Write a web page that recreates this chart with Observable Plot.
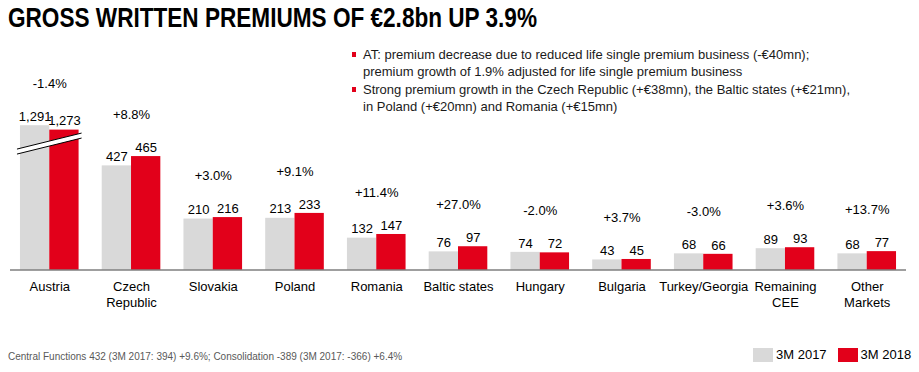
<!DOCTYPE html>
<html>
<head>
<meta charset="utf-8">
<script src="https://cdn.jsdelivr.net/npm/d3@7"></script>
<script src="https://cdn.jsdelivr.net/npm/@observablehq/plot@0.6"></script>
<style>
  html, body { margin: 0; padding: 0; background: #fff; }
  #wrap { position: relative; width: 919px; height: 372px; overflow: hidden; font-family: "Liberation Sans", Arial, sans-serif; }
  #title { position: absolute; left: 8px; top: 2px; font-family: "Liberation Sans", Arial, sans-serif; font-weight: bold; font-size: 28px; color: #000; white-space: nowrap; transform-origin: 0 0; }
  #notes { position: absolute; left: 350px; top: 46px; font-size: 13px; line-height: 17px; color: #1a1a1a; margin: 0; padding: 0; list-style: none; }
  #notes li { position: relative; padding-left: 13px; margin-bottom: 1px; }
  #notes li::before { content: ""; position: absolute; left: 2px; top: 6px; width: 4px; height: 5px; background: #e2001a; }
  #chart { position: absolute; left: 0; top: 0; }
  #foot { position: absolute; left: 8px; top: 351px; font-size: 10px; color: #595959; white-space: nowrap; }
  #legend { position: absolute; left: 753px; top: 347px; font-size: 13px; color: #000; display: flex; align-items: center; white-space: nowrap; }
  #legend span.sw { display: inline-block; width: 20px; height: 14px; margin-right: 3px; }
  #legend span.lb { margin-right: 11px; }
</style>
</head>
<body>
<div id="wrap">
  <div id="chart"></div>
  <div id="title"></div>
  <ul id="notes"></ul>
  <div id="foot"></div>
  <div id="legend"></div>
</div>
<script>
const titleText = "GROSS WRITTEN PREMIUMS OF €2.8bn UP 3.9%";
const notes = [
  "AT: premium decrease due to reduced life single premium business (-€40mn);<br>premium growth of 1.9% adjusted for life single premium business",
  "Strong premium growth in the Czech Republic (+€38mn), the Baltic states (+€21mn),<br>in Poland (+€20mn) and Romania (+€15mn)"
];
const footText = "Central Functions 432 (3M 2017: 394) +9.6%; Consolidation -389 (3M 2017: -366) +6.4%";

const categories = ["Austria", "Czech\nRepublic", "Slovakia", "Poland", "Romania", "Baltic states", "Hungary", "Bulgaria", "Turkey/Georgia", "Remaining\nCEE", "Other\nMarkets"];
const series = ["3M 2017", "3M 2018"];
const v2017 = [1291, 427, 210, 213, 132, 76, 74, 43, 68, 89, 68];
const v2018 = [1273, 465, 216, 233, 147, 97, 72, 45, 66, 93, 77];
const changes = ["-1.4%", "+8.8%", "+3.0%", "+9.1%", "+11.4%", "+27.0%", "-2.0%", "+3.7%", "-3.0%", "+3.6%", "+13.7%"];
const colors = ["#d9d9d9", "#e2001a"];

// broken axis: values above the threshold are drawn shortened by the cut amount
const breakThreshold = 1000;
const breakCut = 700;
const breakAt = 1216; // real value where the break marks sit
const shown = v => v > breakThreshold ? v - breakCut : v;

const rows = categories.flatMap((c, i) => [
  {cat: c, s: series[0], v: v2017[i]},
  {cat: c, s: series[1], v: v2018[i]}
]).map(d => ({...d, h: shown(d.v), label: d3.format(",")(d.v)}));
const groups = categories.map((c, i) => ({cat: c, top: Math.max(shown(v2017[i]), shown(v2018[i])), pct: changes[i]}));

const plot = Plot.plot({
  width: 919, height: 310,
  marginTop: 0, marginBottom: 40, marginLeft: 10, marginRight: 13,
  style: {fontFamily: "'Liberation Sans', Arial, sans-serif", fontSize: "13px", color: "#000", background: "transparent"},
  fx: {domain: categories, paddingInner: 0.283, paddingOuter: 0.122, round: false, label: null},
  x: {domain: series, padding: 0, round: false, axis: null},
  y: {domain: [0, 1102], axis: null},
  color: {domain: series, range: colors},
  marks: [
    Plot.barY(rows, {fx: "cat", x: "s", y: "h", fill: "s"}),
    Plot.text(rows, {fx: "cat", x: "s", y: "h", text: "label", dy: -9, fontSize: 13, fill: "#000"}),
    Plot.text(groups, {fx: "cat", y: "top", text: "pct", dy: -42, fontSize: 13, fill: "#000"}),
    Plot.axisFx({anchor: "bottom", tickSize: 0, tickPadding: 8, fontSize: 13, label: null, lineAnchor: "top", lineHeight: 1.3, fill: "#000"})
  ]
});
document.getElementById("chart").appendChild(plot);

// baseline and axis-break marks, positioned from the plot's own scales
const fx = plot.scale("fx"), x = plot.scale("x"), y = plot.scale("y");
const svg = d3.select(plot);
const y0 = y.apply(0);
svg.append("line")
  .attr("x1", fx.range[0]).attr("x2", fx.range[1])
  .attr("y1", y0).attr("y2", y0)
  .attr("stroke", "#7f7f7f").attr("stroke-width", 1.5);

const xOff = x.range[0];
const bx0 = fx.apply(categories[0]) + x.apply(series[0]) - xOff - 3;
const bx1 = fx.apply(categories[0]) + x.apply(series[1]) + x.bandwidth - xOff + 3;
const byc = y.apply(shown(breakAt));
const rise = 8, gap = 2.5;
const g = svg.append("g");
g.append("polygon")
  .attr("points", [[bx0, byc + rise - gap], [bx1, byc - rise - gap], [bx1, byc - rise + gap], [bx0, byc + rise + gap]].map(p => p.join(",")).join(" "))
  .attr("fill", "#fff");
[-gap, gap].forEach(o => {
  g.append("line")
    .attr("x1", bx0).attr("y1", byc + rise + o)
    .attr("x2", bx1).attr("y2", byc - rise + o)
    .attr("stroke", "#000").attr("stroke-width", 1);
});

const t = document.getElementById("title");
t.textContent = titleText;
t.style.transform = `scaleX(${529 / t.getBoundingClientRect().width})`;
document.getElementById("notes").innerHTML = notes.map(n => `<li>${n}</li>`).join("");
document.getElementById("foot").textContent = footText;
document.getElementById("legend").innerHTML = series.map((s, i) =>
  `<span class="sw" style="background:${colors[i]}"></span><span class="lb">${s}</span>`).join("");
</script>
</body>
</html>
